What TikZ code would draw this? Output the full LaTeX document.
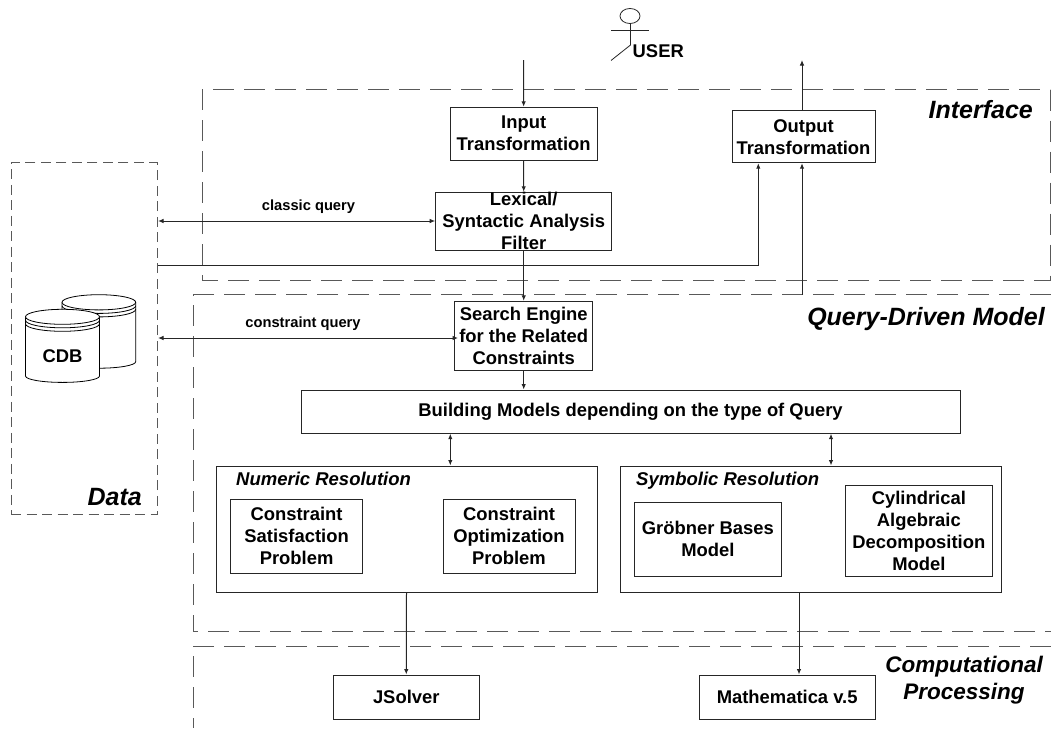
\documentclass[tikz,border=0pt]{standalone}
\usepackage{fontspec}
\setmainfont{Liberation Sans}
\usetikzlibrary{arrows.meta,calc}
\tikzset{
  x=1pt,y=-1pt,
  boxnode/.style={draw=black!85,line width=1pt,inner sep=0pt,align=center,font=\fontsize{18.4}{22}\selectfont\bfseries},
  txtnode/.style={inner sep=0pt,align=center,font=\fontsize{18.4}{22}\selectfont\bfseries},
  small/.style={inner sep=0pt,font=\fontsize{14.7}{16}\selectfont\bfseries},
  region/.style={inner sep=0pt,align=center,font=\fontsize{25}{27}\selectfont\bfseries\itshape},
  subregion/.style={inner sep=0pt,anchor=base west,font=\fontsize{18.5}{22}\selectfont\bfseries\itshape},
  longdash/.style={draw=black!65,line width=1pt,dash pattern=on 21pt off 10pt},
  shortdash/.style={draw=black!65,line width=1pt,dash pattern=on 10pt off 5.5pt},
  conn/.style={draw=black!85,line width=1pt,-{Latex[length=5.5pt,width=4.5pt]}},
  plain/.style={draw=black!85,line width=1pt},
  twoway/.style={draw=black!85,line width=1pt,{Latex[length=5.5pt,width=4.5pt]}-{Latex[length=5.5pt,width=4.5pt]}},
  cyl/.style={draw=black,line width=.8pt,fill=white},
}
\begin{document}
\begin{tikzpicture}
\useasboundingbox (0,0) rectangle (1051,728);
% dashed regions
\draw[longdash] (1050,89.5) rectangle (202,280);
\draw[longdash] (1051,294.7) -- (193.5,294.7) -- (193.5,631.7) -- (1051,631.7);
\draw[longdash] (1051,646) -- (193,646) -- (193,728);
\node[shortdash,minimum width=146.5pt,minimum height=351.3pt,inner sep=0pt,draw] (data) at (84.25,338.35) {};
% cylinders
\draw[cyl] (62,302.3) -- (62,361.7) arc[start angle=180,end angle=360,x radius=36.85pt,y radius=6.5pt] -- (135.7,302.3);
\draw[cyl] (98.85,302.3) ellipse[x radius=36.85pt,y radius=7.6pt];
\draw[cyl,fill=none] (62,305.8) arc[start angle=180,end angle=360,x radius=36.85pt,y radius=7.6pt];
\draw[cyl,fill=none] (62,309.3) arc[start angle=180,end angle=360,x radius=36.85pt,y radius=7.6pt];
\draw[cyl] (25.5,316.8) -- (25.5,376) arc[start angle=180,end angle=360,x radius=37pt,y radius=6.4pt] -- (99.5,316.8);
\draw[cyl] (62.5,316.8) ellipse[x radius=37pt,y radius=7.5pt];
\draw[cyl,fill=none] (25.5,320.3) arc[start angle=180,end angle=360,x radius=37pt,y radius=7.5pt];
\draw[cyl,fill=none] (25.5,323.8) arc[start angle=180,end angle=360,x radius=37pt,y radius=7.5pt];
\node[txtnode] (cdb) at (62.5,356.5) {CDB};
% actor
\draw[plain,line width=.8pt] (630,16) ellipse[x radius=10pt,y radius=7.5pt];
\draw[plain,line width=.8pt] (611,30) -- (649,30);
\draw[plain,line width=.8pt] (630.5,23.5) -- (630.5,45) -- (611,60.5);
\node[txtnode,anchor=west] (user) at (632.5,51) {USER};
% boxes
\node[boxnode,minimum width=146.7pt,minimum height=52.7pt] (inp) at (523.65,133.65) {Input\\Transformation};
\node[boxnode,minimum width=143pt,minimum height=52pt] (outp) at (803.5,136.7) {Output\\Transformation};
\node[boxnode,minimum width=176pt,minimum height=58.4pt] (lex) at (523.7,221.5) {};
\node[txtnode] (lext) at (523.7,220.5) {Lexical/\\Syntactic Analysis\\Filter};
\node[boxnode,minimum width=138pt,minimum height=68.7pt] (srch) at (523.7,335.65) {Search Engine\\for the Related\\Constraints};
\node[boxnode,minimum width=659pt,minimum height=43.7pt] (build) at (630.5,411.85) {Building Models depending on the type of Query};
\node[boxnode,minimum width=381pt,minimum height=126pt] (num) at (406.5,529) {};
\node[boxnode,minimum width=132.3pt,minimum height=73.3pt] (csp) at (296.6,536.4) {Constraint\\Satisfaction\\Problem};
\node[boxnode,minimum width=132pt,minimum height=73.3pt] (cop) at (509,536.4) {Constraint\\Optimization\\Problem};
\node[boxnode,minimum width=380.7pt,minimum height=126pt] (sym) at (810.65,529) {};
\node[boxnode,minimum width=146.3pt,minimum height=73.7pt] (grob) at (707.85,539.15) {Gröbner Bases\\Model};
\node[boxnode,minimum width=146.3pt,minimum height=91pt] (cad) at (918.85,530.5) {Cylindrical\\Algebraic\\Decomposition\\Model};
\node[boxnode,minimum width=146.5pt,minimum height=44pt] (jsol) at (406.25,697) {JSolver};
\node[boxnode,minimum width=175.7pt,minimum height=44pt] (math) at (787.15,697) {Mathematica v.5};
% region labels
\node[region,anchor=base east] (lint) at (1033,118) {Interface};
\node[region,anchor=base east] (lqry) at (1045,325) {Query-Driven Model};
\node[region,anchor=base east] (ldat) at (142,505) {Data};
\node[region,font=\fontsize{22.5}{26.5}\selectfont\bfseries\itshape] (lcomp) at (964,680) {Computational\\Processing};
\node[subregion] (lnum) at (236,485) {Numeric Resolution};
\node[subregion] (lsym) at (636,485) {Symbolic Resolution};
\node[small] (lcq) at (308.5,206.5) {classic query};
\node[small] (lkq) at (303,324) {constraint query};
% connectors
\coordinate (userin) at (523.7,60);
\coordinate (userout) at (802,60);
\draw[conn] (userin) -- (inp.north);
\draw[conn] (inp.south) -- (lex.north);
\draw[conn] (lex.south) -- (srch.north);
\draw[conn] (srch.south) -- (srch.south |- build.north);
\draw[conn] (userout |- outp.north) -- (userout);
\draw[twoway] (data.east |- 0,221) -- (lex.west |- 0,221);
\coordinate (kqend) at (458,338);
\draw[twoway] (data.east |- kqend) -- (kqend);
\coordinate (o1) at (758.3,265.5);
\draw[conn] (data.east |- o1) -- (o1) -- (o1 |- outp.south);
\coordinate (o2) at (802,294.7);
\draw[conn] (o2) -- (o2 |- outp.south);
\coordinate (d1) at (450.3,433.7);
\draw[twoway] (d1) -- (d1 |- num.north);
\coordinate (d2) at (831,433.7);
\draw[twoway] (d2) -- (d2 |- sym.north);
\draw[conn] (num.south) -- (jsol.north);
\coordinate (s1) at (799,592);
\draw[conn] (s1) -- (s1 |- math.north);
\end{tikzpicture}
\end{document}
